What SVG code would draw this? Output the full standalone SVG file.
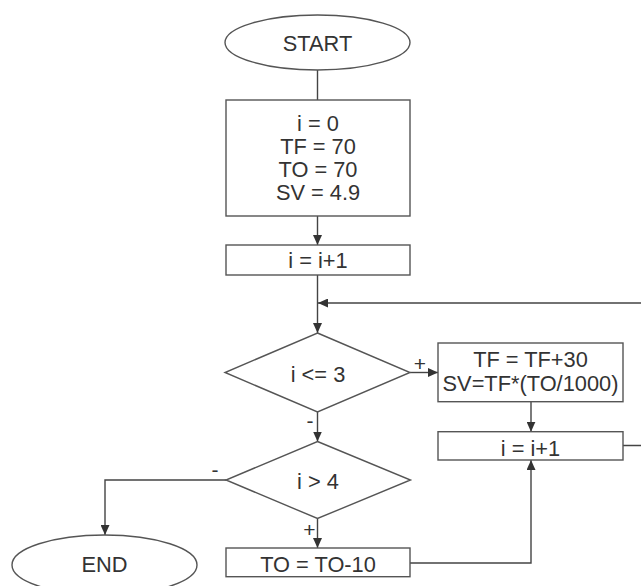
<svg xmlns="http://www.w3.org/2000/svg" width="641" height="586" viewBox="0 0 641 586">
<style>
.shape{fill:#fff;stroke:#555;stroke-width:1.4}
.conn{fill:none;stroke:#444;stroke-width:1.4}
text{font-family:"Liberation Sans",Arial,sans-serif;font-size:21.8px;fill:#333;text-anchor:middle}
.lbl{font-size:21px}
</style>
<defs>
<marker id="arr" markerUnits="userSpaceOnUse" markerWidth="10" markerHeight="9" refX="10" refY="4.5" orient="auto">
<path d="M0,0 L10,4.5 L0,9 z" fill="#333"/>
</marker>
</defs>
<rect width="641" height="586" fill="#fff"/>
<g id="connectors">
<path class="conn" d="M317.5,70 V100"/>
<path class="conn" d="M317.5,216 V245" marker-end="url(#arr)"/>
<path class="conn" d="M317.5,275 V333" marker-end="url(#arr)"/>
<path class="conn" d="M623,445.5 H660 V303 H318" marker-end="url(#arr)"/>
<path class="conn" d="M410,372.5 H438" marker-end="url(#arr)"/>
<path class="conn" d="M317.5,412 V441.5" marker-end="url(#arr)"/>
<path class="conn" d="M531,401.7 V431.7" marker-end="url(#arr)"/>
<path class="conn" d="M226,480 H105 V535" marker-end="url(#arr)"/>
<path class="conn" d="M317.5,518.5 V548" marker-end="url(#arr)"/>
<path class="conn" d="M410,563 H531 V460" marker-end="url(#arr)"/>
<text class="lbl" x="420" y="371">+</text>
<text class="lbl" x="310" y="428">-</text>
<text class="lbl" x="215" y="476.5">-</text>
<text class="lbl" x="309.5" y="536.5">+</text>
</g>
<g id="start">
<ellipse class="shape" cx="317.5" cy="42.5" rx="92.5" ry="27.5"/>
<text x="317.5" y="50.5">START</text>
</g>
<g id="init">
<rect class="shape" x="226" y="100" width="184" height="116"/>
<text x="318" y="130.5">i = 0</text>
<text x="318" y="153.8">TF = 70</text>
<text x="318" y="177.1">TO = 70</text>
<text x="318" y="200.4">SV = 4.9</text>
</g>
<g id="inc1">
<rect class="shape" x="226" y="245" width="184" height="30"/>
<text x="318" y="267.5">i = i+1</text>
</g>
<g id="cond1">
<path class="shape" d="M317.5,333 L410,372.5 L317.5,412 L225,372.5 Z"/>
<text x="318" y="381.5">i &lt;= 3</text>
</g>
<g id="update">
<rect class="shape" x="438" y="343" width="185" height="58.7"/>
<text x="530.5" y="367">TF = TF+30</text>
<text x="530.5" y="391">SV=TF*(TO/1000)</text>
</g>
<g id="inc2">
<rect class="shape" x="438" y="431.7" width="185" height="28.3"/>
<text x="530.5" y="455.5">i = i+1</text>
</g>
<g id="cond2">
<path class="shape" d="M317.5,441.5 L410.5,480 L317.5,518.5 L226,480 Z"/>
<text x="318" y="488.5">i &gt; 4</text>
</g>
<g id="decTO">
<rect class="shape" x="226" y="548" width="184" height="28.7"/>
<text x="318" y="572">TO = TO-10</text>
</g>
<g id="end">
<ellipse class="shape" cx="104.5" cy="565" rx="92.5" ry="30"/>
<text x="104.5" y="572">END</text>
</g>
</svg>
